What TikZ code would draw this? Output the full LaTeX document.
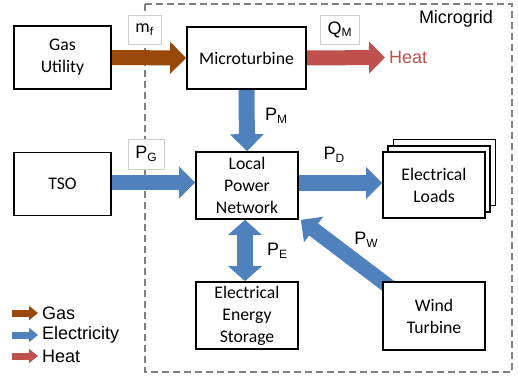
\documentclass[tikz,border=0pt]{standalone}
\usepackage{fontspec}
\setmainfont{Carlito}
\newfontfamily\arialf{Liberation Sans}
\usetikzlibrary{arrows.meta}
\definecolor{gasc}{RGB}{152,72,7}
\definecolor{elc}{RGB}{79,129,189}
\definecolor{heatc}{RGB}{192,80,77}
\definecolor{dashc}{RGB}{128,128,128}
\definecolor{lblc}{RGB}{205,205,205}
\pgfdeclarelayer{bg}
\pgfsetlayers{bg,main}
\newcommand\sbs[1]{\raisebox{-2.5pt}{\fontsize{12}{12}\selectfont #1}}
\begin{document}
\begin{tikzpicture}[x=1pt,y=-1pt,
  box/.style={draw=black, line width=1.7pt, fill=white, align=center, inner sep=0pt,
    font=\fontsize{17.7}{22}\selectfont},
  lbl/.style={draw=lblc, line width=0.8pt, fill=white, inner sep=0pt,
    font=\arialf\fontsize{18}{18}\selectfont},
  plain/.style={inner sep=0pt, font=\arialf\fontsize{18}{18}\selectfont},
  fat/.style={line width=15pt, -{Triangle[width=31pt,length=16pt]}},
  fatv/.style={line width=16pt, -{Triangle[width=33pt,length=17pt]}},
  fatd/.style={line width=16pt, {Triangle[width=33pt,length=15pt]}-{Triangle[width=33pt,length=15pt]}},
  small/.style={line width=7pt, -{Triangle[width=14pt,length=9pt]}}
]
\useasboundingbox (0,0) rectangle (518,379);

% boxes
\node[box, minimum width=97pt, minimum height=63pt] (gas) at (62.5,57.5) {Gas\\Utility};
\node[box, minimum width=119pt, minimum height=62pt] (mt) at (246.5,58) {Microturbine};
\node[box, minimum width=97pt, minimum height=63pt] (tso) at (62.5,184) {TSO};
\node[box, minimum width=102pt, minimum height=67pt] (lpn) at (247,185.5) {Local\\Power\\Network};
\node[box, minimum width=102pt, minimum height=66pt] (loadsb) at (444.5,172.5) {};
\node[box, minimum width=102pt, minimum height=66pt] (loadsm) at (439.25,178.75) {};
\node[box, minimum width=102pt, minimum height=66pt] (loads) at (434,185) {Electrical\\Loads};
\node[box, minimum width=102pt, minimum height=67pt] (ees) at (247,315.5) {Electrical\\Energy\\Storage};
\node[box, minimum width=102pt, minimum height=68pt] (wind) at (434,316) {Wind\\Turbine};

% flow labels
\node[lbl, minimum width=33pt, minimum height=29pt, font=\fontsize{18}{18}\selectfont] (mf) at (144.5,29.5) {m\sbs{f}};
\node[lbl, minimum width=39pt, minimum height=29pt] (qm) at (339.5,29.5) {Q\sbs{M}};
\node[lbl, minimum width=36pt, minimum height=30pt] (pg) at (146,154) {P\sbs{G}};
\node[plain] (pm) at (276,116) {P\sbs{M}};
\node[plain] (pd) at (334,155) {P\sbs{D}};
\node[plain] (pe) at (277,251) {P\sbs{E}};
\node[plain] (pw) at (366,240) {P\sbs{W}};
\coordinate (heatend) at (385,57.5);
\node[plain, anchor=west, text=heatc] (heat) at (389,57) {Heat};
\node[plain] (mg) at (456,19) {Microgrid};

% legend
\coordinate (lg1a) at (12,313); \coordinate (lg1b) at (38,313);
\coordinate (lg2a) at (12,335); \coordinate (lg2b) at (38,335);
\coordinate (lg3a) at (12,356); \coordinate (lg3b) at (38,356);
\node[plain, anchor=west] (lgt1) at (42,313) {Gas};
\node[plain, anchor=west] (lgt2) at (42,335) {Electricity};
\node[plain, anchor=west] (lgt3) at (42,356) {Heat};

\begin{pgfonlayer}{bg}
\draw[dashc, line width=1.8pt, dash pattern=on 7pt off 4pt] (145,4) rectangle (512,372);
\draw[fat, gasc] (gas.east) -- (mt.west);
\draw[fat, heatc] (mt.east) -- (heatend);
\draw[fatv, elc] (mt.south) -- (lpn.north);
\draw[fat, elc] ([yshift=1.5pt]tso.east) -- ([yshift=1.5pt]tso.east -| lpn.west);
\draw[fat, elc] ([yshift=2.5pt]lpn.east) -- ([yshift=2.5pt]lpn.east -| loads.west);
\draw[fatd, elc] ([xshift=-2pt]lpn.south) -- ([xshift=-2pt]ees.north);
\draw[fat, elc] ([xshift=9pt,yshift=-7pt]wind.north west) -- ([xshift=2pt]lpn.south east);
\draw[small, gasc] (lg1a) -- (lg1b);
\draw[small, elc] (lg2a) -- (lg2b);
\draw[small, heatc] (lg3a) -- (lg3b);
\end{pgfonlayer}
\end{tikzpicture}
\end{document}
